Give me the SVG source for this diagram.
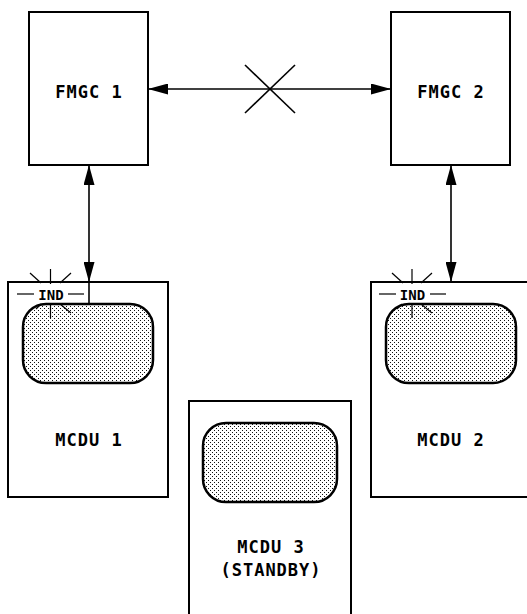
<svg xmlns="http://www.w3.org/2000/svg" width="527" height="614" viewBox="0 0 527 614">
<style>
.box{fill:#fff;stroke:#000;stroke-width:2}
.scr{fill:url(#dots);stroke:#000;stroke-width:2.5}
.ln{fill:none;stroke:#000;stroke-width:1.6}
.ray{fill:none;stroke:#000;stroke-width:1.2}
.lbl{font-family:"DejaVu Sans Mono","Liberation Mono",monospace;font-weight:bold;font-size:17px;letter-spacing:1px;text-anchor:middle;fill:#000}
.ind{font-family:"DejaVu Sans Mono","Liberation Mono",monospace;font-weight:bold;font-size:14px;text-anchor:middle;fill:#000}
</style>
<defs>
<pattern id="dots" width="4" height="4" patternUnits="userSpaceOnUse">
<rect width="4" height="4" fill="#fff"/>
<rect x="0" y="0" width="1" height="1" fill="#111"/>
<rect x="2" y="2" width="1" height="1" fill="#111"/>
</pattern>
<marker id="arr" markerUnits="userSpaceOnUse" markerWidth="20" markerHeight="11" refX="20" refY="5.5" orient="auto-start-reverse">
<path d="M0,0 L20,5.5 L0,11 z" fill="#000"/>
</marker>
</defs>
<rect width="527" height="614" fill="#fff"/>

<g id="fmgc1">
<rect class="box" x="29" y="12" width="119" height="153"/>
<text class="lbl" x="89" y="98">FMGC 1</text>
</g>
<g id="fmgc2">
<rect class="box" x="391" y="12" width="119" height="153"/>
<text class="lbl" x="451" y="98">FMGC 2</text>
</g>

<g id="mcdu1">
<rect class="box" x="8" y="282" width="160" height="215"/>
<rect class="scr" x="23" y="304" width="130" height="79" rx="23" ry="23"/>
<text class="lbl" x="89" y="446">MCDU 1</text>
<g id="ind1">
<line class="ray" x1="17" y1="294" x2="34" y2="294"/>
<line class="ray" x1="68" y1="294" x2="84" y2="294"/>
<line class="ray" x1="50.5" y1="269" x2="50.5" y2="284"/>
<line class="ray" x1="30" y1="273" x2="41" y2="283"/>
<line class="ray" x1="71" y1="273" x2="60" y2="283"/>
<line class="ray" x1="50.5" y1="304" x2="50.5" y2="318"/>
<line class="ray" x1="41" y1="304" x2="36" y2="309"/>
<line class="ray" x1="60" y1="304" x2="71" y2="313"/>
<text class="ind" x="51" y="299.5">IND</text>
</g>
</g>

<g id="mcdu2">
<rect class="box" x="371" y="282" width="160" height="215"/>
<rect class="scr" x="386" y="304" width="130" height="79" rx="23" ry="23"/>
<text class="lbl" x="451" y="446">MCDU 2</text>
<g id="ind2">
<line class="ray" x1="379" y1="294" x2="396" y2="294"/>
<line class="ray" x1="430" y1="294" x2="446" y2="294"/>
<line class="ray" x1="412" y1="269" x2="412" y2="284"/>
<line class="ray" x1="392" y1="273" x2="403" y2="283"/>
<line class="ray" x1="432" y1="273" x2="421" y2="283"/>
<line class="ray" x1="412" y1="304" x2="412" y2="318"/>
<line class="ray" x1="402" y1="304" x2="397" y2="309"/>
<line class="ray" x1="421" y1="304" x2="432" y2="313"/>
<text class="ind" x="412.5" y="299.5">IND</text>
</g>
</g>

<g id="mcdu3">
<rect class="box" x="189" y="401" width="162" height="220"/>
<rect class="scr" x="203" y="423" width="134" height="79" rx="23" ry="23"/>
<text class="lbl" x="271" y="553">MCDU 3</text>
<text class="lbl" x="271" y="576">(STANDBY)</text>
</g>

<g id="connectors">
<line class="ln" x1="148" y1="89" x2="391" y2="89" marker-start="url(#arr)" marker-end="url(#arr)"/>
<line class="ln" x1="245" y1="65" x2="295" y2="113"/>
<line class="ln" x1="295" y1="65" x2="245" y2="113"/>
<line class="ln" x1="89" y1="165" x2="89" y2="282" marker-start="url(#arr)" marker-end="url(#arr)"/>
<line class="ln" x1="89" y1="282" x2="89" y2="304"/>
<line class="ln" x1="451" y1="165" x2="451" y2="282" marker-start="url(#arr)" marker-end="url(#arr)"/>
</g>
</svg>
